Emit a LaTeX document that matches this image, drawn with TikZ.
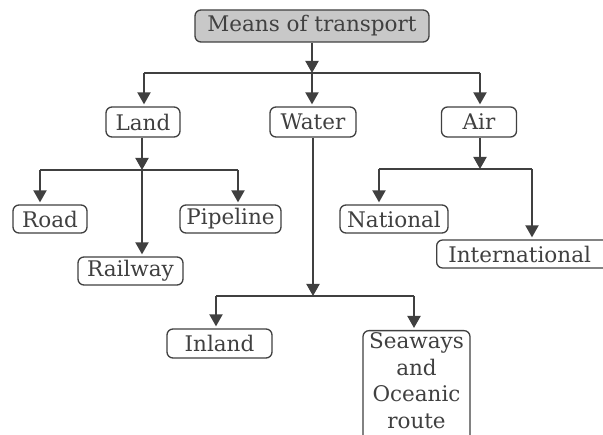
\documentclass[tikz,border=0pt]{standalone}
\usepackage{fontspec}
\setmainfont{DejaVu Serif}
\usetikzlibrary{arrows.meta}
\definecolor{ink}{HTML}{404040}
\definecolor{boxfill}{HTML}{C8C8C8}
\begin{document}
\begin{tikzpicture}[x=1pt,y=-1pt,
  box/.style={draw=ink, line width=1.3pt, rounded corners=6pt, inner sep=0pt,
    font=\fontsize{21.5}{26.5}\selectfont, text=ink, align=center, minimum height=28pt},
  link/.style={draw=ink, line width=2pt},
  arr/.style={link, -{Triangle[width=13pt,length=12pt]}},
  arrb/.style={arr, shorten >=2pt}]
\clip (0,0) rectangle (603,435);
\fill[white] (0,0) rectangle (603,435);
% nodes
\node[box, fill=boxfill, minimum width=234pt, minimum height=32pt] (top) at (312,26) {Means of transport};
\node[box, minimum width=74pt, minimum height=30pt] (land) at (143,122) {Land};
\node[box, minimum width=86pt, minimum height=30pt] (water) at (313,122) {Water};
\node[box, minimum width=75pt, minimum height=30pt] (air) at (479,122) {Air};
\node[box, minimum width=74pt] (road) at (50,219) {Road};
\node[box, minimum width=101pt] (pipeline) at (230.5,219) {Pipeline};
\node[box, minimum width=105pt] (railway) at (130.5,271) {Railway};
\node[box, minimum width=108pt] (national) at (394,219) {National};
\node[box, minimum width=178pt, anchor=west] (international) at (436,254) {\hspace*{-12pt}International};
\node[box, minimum width=105pt, minimum height=29pt] (inland) at (219.5,343.5) {Inland};
\node[box, anchor=north, text width=100pt, inner xsep=3.5pt, inner ysep=2pt, minimum height=130pt] (sea) at (416.5,330) {Seaways\\and\\Oceanic\\route\\\strut};
% junctions
\coordinate (j0) at (312,73);
\coordinate (jL) at (144,73);
\coordinate (jA) at (480,73);
\coordinate (kL) at (142,170);
\coordinate (kR) at (40,170);
\coordinate (kP) at (238,170);
\coordinate (kA) at (480,169);
\coordinate (kN) at (379,169);
\coordinate (kI) at (532,169);
\coordinate (w0) at (313,296);
\coordinate (wI) at (216,296);
\coordinate (wS) at (414,296);
% connectors
\draw[arr] (top.south -| j0) -- (j0);
\draw[link] (jL) -- (jA);
\draw[arrb] (jL) -- (jL |- land.north);
\draw[arrb] (j0) -- (j0 |- water.north);
\draw[arrb] (jA) -- (jA |- air.north);
\draw[arr] (land.south -| kL) -- (kL);
\draw[link] (kR) -- (kP);
\draw[arrb] (kR) -- (kR |- road.north);
\draw[arrb] (kP) -- (kP |- pipeline.north);
\draw[arrb] (kL) -- (kL |- railway.north);
\draw[arr] (air.south -| kA) -- (kA);
\draw[link] (kN) -- (kI);
\draw[arrb] (kN) -- (kN |- national.north);
\draw[arrb] (kI) -- (kI |- international.north);
\draw[arr] (water.south -| w0) -- (w0);
\draw[link] (wI) -- (wS);
\draw[arrb] (wI) -- (wI |- inland.north);
\draw[arrb] (wS) -- (wS |- sea.north);
\end{tikzpicture}
\end{document}
